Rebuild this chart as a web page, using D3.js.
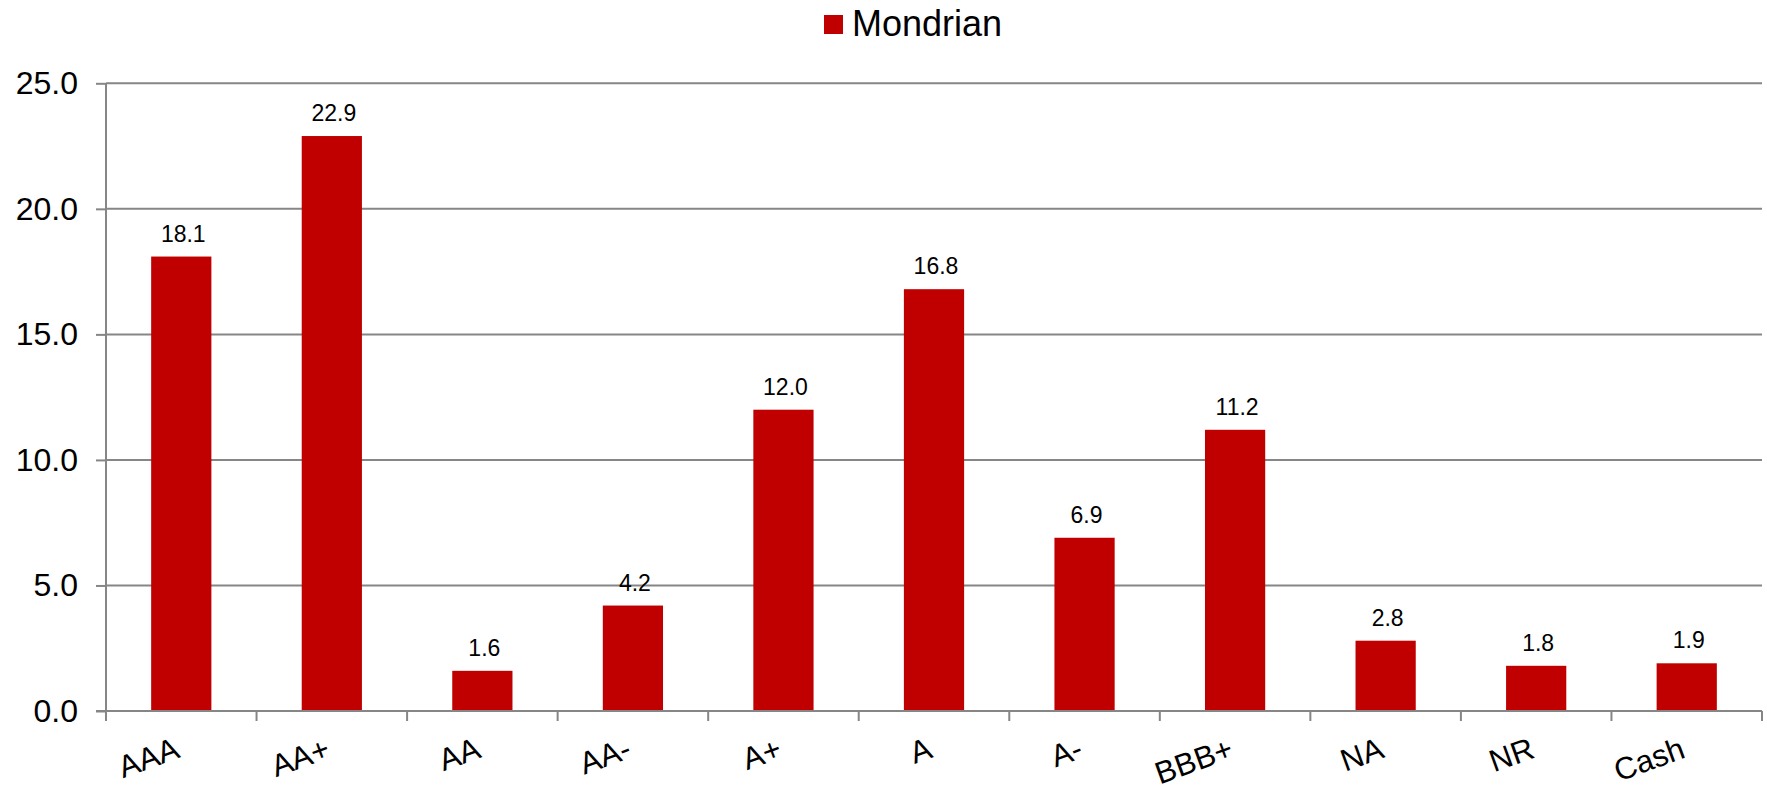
<!DOCTYPE html>
<html>
<head>
<meta charset="utf-8">
<script src="https://cdn.jsdelivr.net/npm/d3@7"></script>
<style>
  html, body { margin: 0; padding: 0; background: #ffffff; }
  svg { display: block; font-family: "Liberation Sans", Arial, sans-serif; }
</style>
</head>
<body>
<svg id="chart" width="1767" height="790"></svg>
<script>
const categories = ["AAA", "AA+", "AA", "AA-", "A+", "A", "A-", "BBB+", "NA", "NR", "Cash"];
const values = [18.1, 22.9, 1.6, 4.2, 12.0, 16.8, 6.9, 11.2, 2.8, 1.8, 1.9];
const yTicks = [0, 5, 10, 15, 20, 25];
const seriesName = "Mondrian";

(function () {
const W = 1767, H = 790;
const plotLeft = 106, plotRight = 1762, plotTop = 83.3, plotBottom = 711;
const barColor = "#C00000";
const gridColor = "#868686";

const svg = d3.select("#chart");

const x = d3.scaleBand().domain(categories).range([plotLeft, plotRight]).paddingInner(0.6).paddingOuter(0.3);
const y = d3.scaleLinear().domain([0, 25]).range([plotBottom, plotTop]);

// gridlines + y axis
const yAxis = d3.axisLeft(y).tickValues(yTicks).tickFormat(d3.format(".1f")).tickSize(10).tickPadding(18);
const gy = svg.append("g").attr("transform", `translate(${plotLeft},0)`).call(yAxis);
gy.select(".domain").attr("stroke", gridColor).attr("stroke-width", 2).attr("d", `M0,${plotTop}V${plotBottom}`);
gy.selectAll(".tick line").attr("stroke", gridColor).attr("stroke-width", 2);
gy.selectAll(".tick text").attr("font-size", 32).attr("fill", "#000").attr("font-family", "Liberation Sans, Arial, sans-serif");

svg.append("g").selectAll("line").data(yTicks.filter(d => d > 0)).join("line")
  .attr("x1", plotLeft).attr("x2", plotRight)
  .attr("y1", d => y(d)).attr("y2", d => y(d))
  .attr("stroke", gridColor).attr("stroke-width", 2);

// bars
svg.append("g").selectAll("rect").data(categories).join("rect")
  .attr("x", d => x(d))
  .attr("width", x.bandwidth())
  .attr("y", (d, i) => y(values[i]))
  .attr("height", (d, i) => y(0) - y(values[i]))
  .attr("fill", barColor);

// x axis baseline
svg.append("line").attr("x1", plotLeft - 10).attr("x2", plotRight)
  .attr("y1", y(0)).attr("y2", y(0))
  .attr("stroke", gridColor).attr("stroke-width", 2);

// x ticks at category boundaries
const step = x.step();
const boundaries = d3.range(categories.length + 1).map(i => plotLeft + i * step);
svg.append("g").selectAll("line").data(boundaries).join("line")
  .attr("x1", d => d).attr("x2", d => d)
  .attr("y1", y(0)).attr("y2", y(0) + 10)
  .attr("stroke", gridColor).attr("stroke-width", 2);

// category labels
svg.append("g").selectAll("text").data(categories).join("text")
  .attr("transform", d => `translate(${x(d) + x.bandwidth() / 2},757) rotate(-20)`)
  .attr("text-anchor", "end")
  .attr("font-size", 31)
  .attr("fill", "#000")
  .text(d => d);

// data labels
svg.append("g").selectAll("text").data(categories).join("text")
  .attr("x", d => x(d) + x.bandwidth() / 2 + 2)
  .attr("y", (d, i) => y(values[i]) - 15)
  .attr("text-anchor", "middle")
  .attr("font-size", 23)
  .attr("fill", "#000")
  .text((d, i) => d3.format(".1f")(values[i]));

// legend
const lg = svg.append("g");
lg.append("rect").attr("x", 824).attr("y", 15).attr("width", 19).attr("height", 19).attr("fill", barColor);
lg.append("text").attr("x", 852).attr("y", 36).attr("font-size", 36).attr("fill", "#000").text(seriesName);
})();
</script>
</body>
</html>
